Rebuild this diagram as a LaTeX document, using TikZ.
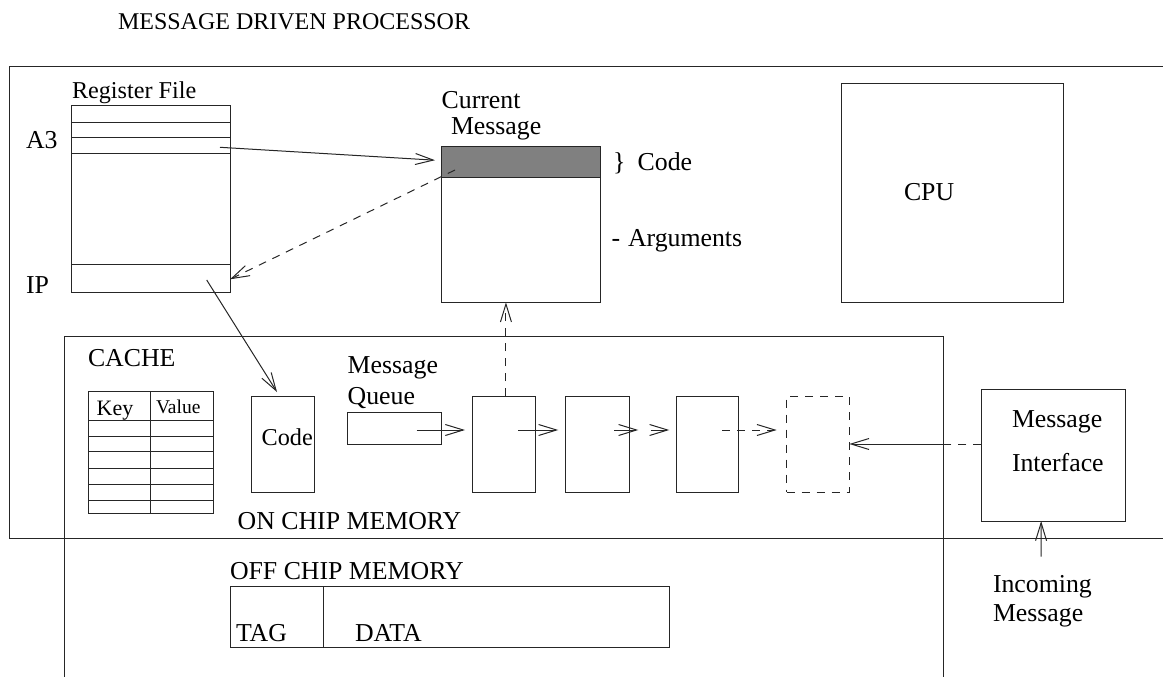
\documentclass[tikz,border=0pt]{standalone}
\usepackage{fontspec}
\setmainfont{Liberation Serif}
\usetikzlibrary{arrows.meta,calc}
\newcommand\fsMain{\fontsize{25.8}{28}\selectfont}
\newcommand\fsTitle{\fontsize{24}{26}\selectfont}
\newcommand\fsSmall{\fontsize{24.2}{26}\selectfont}
\newcommand\fsKey{\fontsize{22}{24}\selectfont}
\newcommand\fsVal{\fontsize{19.5}{22}\selectfont}
\begin{document}
\begin{tikzpicture}[x=1pt,y=-1pt,
  line width=1pt, draw=black!85,
  box/.style={draw, line width=1pt, inner sep=0pt, outer sep=0pt, anchor=north west},
  lbl/.style={anchor=base west, inner sep=0pt, outer sep=0pt, font=\fsMain},
  arr/.style={-{Straight Barb[length=18pt,width=11pt,line width=1pt]}},
  dsh/.style={dash pattern=on 8pt off 7pt}]
\useasboundingbox (0,0) rectangle (1163,677);
\clip (0,0) rectangle (1163,677);

% title
\node[lbl, font=\fsTitle] (title) at (118,30) {MESSAGE DRIVEN PROCESSOR};

% processor chip outline and memory outline (both run past the page edge)
\draw (1170,67) -- (9.5,67) -- (9.5,538) -- (1170,538);
\draw (64,690) -- (64,336) -- (943,336) -- (943,690);

% register file
\node[box, minimum width=158.3pt, minimum height=186.6pt] (reg) at (71.7,105.7) {};
\foreach \dy in {16.6,31.3,48,158.3}
  \draw ($(reg.north west)+(0,\dy)$) -- ($(reg.north east)+(0,\dy)$);
\node[lbl, font=\fsSmall] (regl) at (72,98.5) {Register File};
\node[lbl, font=\fsMain] (a3l) at (26,148) {A3};
\node[lbl, font=\fsMain] (ipl) at (26,293) {IP};
\coordinate (a3) at (220,147.3);
\coordinate (ip) at (206.7,280);

% current message
\node[box, minimum width=159pt, minimum height=155.6pt] (cm) at (441,146.7) {};
\node[box, fill=black!50, minimum width=159pt, minimum height=31pt] (cmcode) at (441,146.7) {};
\node[lbl] (curl) at (441.7,108) {Current};
\node[lbl] (msgl) at (451,135) {Message};
\node[lbl] (brace) at (613,170.7) {\}};
\node[lbl] (codel) at (637.7,170.7) {Code};
\node[lbl] (dashl) at (611.7,246.7) {-};
\node[lbl] (argl) at (628,246.7) {Arguments};
\coordinate (cmc) at (455,170);

% CPU
\node[box, minimum width=221.6pt, minimum height=219pt] (cpu) at (841.7,83.3) {};
\node[lbl] (cpul) at (904,200) {CPU};

% cache
\node[lbl] (cachel) at (88,366) {CACHE};
\node[box, minimum width=125pt, minimum height=122.3pt] (kv) at (88.3,391) {};
\draw (kv.north west -| 150.7,0) -- (kv.south west -| 150.7,0);
\foreach \dy in {29,45.7,60.7,77.3,93.3,109}
  \draw ($(kv.north west)+(0,\dy)$) -- ($(kv.north east)+(0,\dy)$);
\node[lbl, font=\fsKey] (keyl) at (96.7,415) {Key};
\node[lbl, font=\fsVal] (vall) at (156,413.5) {Value};

% code block
\node[box, minimum width=62.6pt, minimum height=96.3pt] (codeblk) at (251.7,396) {};
\node[lbl, font=\fsSmall] (codebl) at (261.7,445) {Code};

% message queue
\node[lbl] (mql) at (347.7,373) {Message};
\node[lbl] (mqq) at (347.7,404) {Queue};
\node[box, minimum width=94pt, minimum height=31.3pt] (mq) at (347.7,412.7) {};
\node[box, minimum width=62.7pt, minimum height=96.3pt] (q1) at (472.3,396) {};
\node[box, minimum width=63.3pt, minimum height=96.3pt] (q2) at (565.7,396) {};
\node[box, minimum width=62pt, minimum height=96.3pt] (q3) at (676.7,396) {};
\node[box, dsh, minimum width=62.6pt, minimum height=96.3pt] (q4) at (786.7,396) {};

\node[lbl] (onchip) at (237.7,529) {ON CHIP MEMORY};

% off chip memory
\node[lbl] (offchip) at (230,579) {OFF CHIP MEMORY};
\node[box, minimum width=438.4pt, minimum height=61.7pt] (td) at (230.6,586) {};
\draw (td.north west -| 323.5,0) -- (td.south west -| 323.5,0);
\node[lbl] (tagl) at (236,641) {TAG};
\node[lbl] (datal) at (355,641) {DATA};

% message interface
\node[box, minimum width=143.7pt, minimum height=132pt] (mi) at (981.3,389) {};
\node[lbl] (mil1) at (1012,427.3) {Message};
\node[lbl] (mil2) at (1012,471.7) {Interface};
\node[lbl] (inl1) at (993,592.7) {Incoming};
\node[lbl] (inl2) at (993,621.7) {Message};
\coordinate (inc) at (1041,556.7);

% queue links
\coordinate (s1) at (416.7,430);
\coordinate (s2) at (518.3,430);
\coordinate (s3) at (614.3,430);
\coordinate (s4) at (650.5,430);
\coordinate (s5) at (722,430);
\coordinate (memedge) at (943,444);

% connectors
\draw[arr] (a3) -- ([xshift=-6pt,yshift=2pt]cmcode.west);
\draw[arr, dsh] (cmc) -- ([yshift=13pt]reg.south east);
\draw[arr] (ip) -- ([xshift=-6pt,yshift=4pt]codeblk.north);
\draw[arr] (s1) -- ([xshift=-7.3pt]s1 -| q1.west);
\draw[arr] (s2) -- ([xshift=-7.4pt]s2 -| q2.west);
\draw[arr] (s3) -- ([xshift=9.3pt]s3 -| q2.east);
\draw[arr] (s4) -- ([xshift=-7.4pt]s4 -| q3.west);
\draw[arr, dsh] (s5) -- ([xshift=-10pt]s5 -| q4.west);
\draw[arr, dsh] ([xshift=2.3pt]q1.north) -- ([xshift=2.3pt]q1.north |- cm.south);
\draw[dsh] ([yshift=11pt]mi.west) -- (memedge);
\draw[arr] (memedge) -- (memedge -| q4.east);
\draw[arr] (inc) -- ([xshift=-12pt]mi.south);
\end{tikzpicture}
\end{document}
